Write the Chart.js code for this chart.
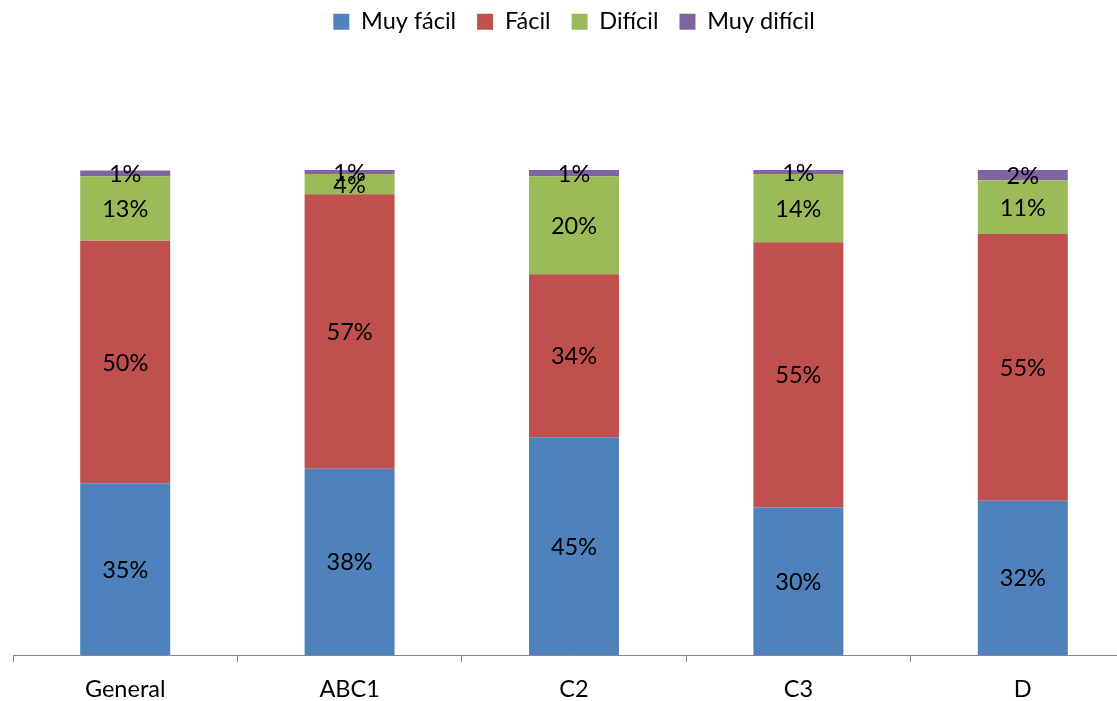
<!DOCTYPE html>
<html>
<head>
<meta charset="utf-8">
<script src="https://cdn.jsdelivr.net/npm/chart.js@4.4.1/dist/chart.umd.min.js"></script>
<style>
  html, body { margin: 0; padding: 0; background: #ffffff; overflow: hidden; }
  #wrap { width: 1148px; height: 701px; }
</style>
</head>
<body>
<div id="wrap"><canvas id="c" width="1148" height="701"></canvas></div>
<script>
const categories = ['General', 'ABC1', 'C2', 'C3', 'D'];
const seriesNames = ['Muy fácil', 'Fácil', 'Difícil', 'Muy difícil'];
const muyFacil   = [35.4, 38.4, 44.9, 30.4, 31.8];
const facil      = [50.0, 56.6, 33.6, 54.7, 55.0];
const dificil    = [13.3, 4.2, 20.2, 14.1, 11.1];
const muyDificil = [1.2, 0.8, 1.3, 0.8, 2.1];
const colors = ['#4F81BD', '#C0504D', '#9BBB59', '#8064A2'];

const FONT = 'Lato, "Open Sans", sans-serif';
const FSIZE = 23.5;
const TOP_SHIFT = 11;

const legendSpace = {
  id: 'legendSpace',
  beforeInit(chart) {
    const origFit = chart.legend.fit;
    chart.legend.fit = function () {
      origFit.call(this);
      this.height = 170 + TOP_SHIFT;
    };
  }
};

const barLabels = {
  id: 'barLabels',
  afterDatasetsDraw(chart) {
    const ctx = chart.ctx;
    ctx.save();
    ctx.font = FSIZE + 'px ' + FONT;
    ctx.fillStyle = '#000000';
    ctx.textAlign = 'center';
    ctx.textBaseline = 'middle';
    chart.data.datasets.forEach((ds, i) => {
      const meta = chart.getDatasetMeta(i);
      meta.data.forEach((bar, j) => {
        const v = ds.data[j];
        const cy = (bar.y + bar.base) / 2;
        ctx.fillText(Math.round(v) + '%', bar.x, cy + 1);
      });
    });
    ctx.restore();
  }
};

const seriesData = [muyFacil, facil, dificil, muyDificil];

new Chart(document.getElementById('c'), {
  type: 'bar',
  data: {
    labels: categories,
    datasets: seriesNames.map((name, i) => ({
      label: name,
      data: seriesData[i],
      backgroundColor: colors[i],
      borderWidth: 0,
      categoryPercentage: 1.0,
      barPercentage: 0.401
    }))
  },
  options: {
    responsive: false,
    animation: false,
    events: [],
    layout: { padding: { left: 13, right: 13, top: -TOP_SHIFT, bottom: 0 } },
    plugins: {
      legend: {
        position: 'top',
        labels: {
          boxWidth: 16,
          boxHeight: 16,
          padding: 21,
          color: '#000000',
          font: { family: FONT, size: FSIZE }
        }
      },
      tooltip: { enabled: false },
      title: { display: false }
    },
    scales: {
      x: {
        stacked: true,
        afterFit(scale) { scale.height = 46; },
        grid: {
          display: true,
          drawOnChartArea: false,
          drawTicks: true,
          tickLength: 7,
          tickColor: '#868686',
          color: '#868686'
        },
        border: { display: true, color: '#868686', width: 1 },
        ticks: {
          color: '#000000',
          padding: 13,
          font: { family: FONT, size: FSIZE }
        }
      },
      y: {
        stacked: true,
        display: false,
        min: 0,
        max: 100
      }
    }
  },
  plugins: [legendSpace, barLabels]
});
</script>
</body>
</html>
